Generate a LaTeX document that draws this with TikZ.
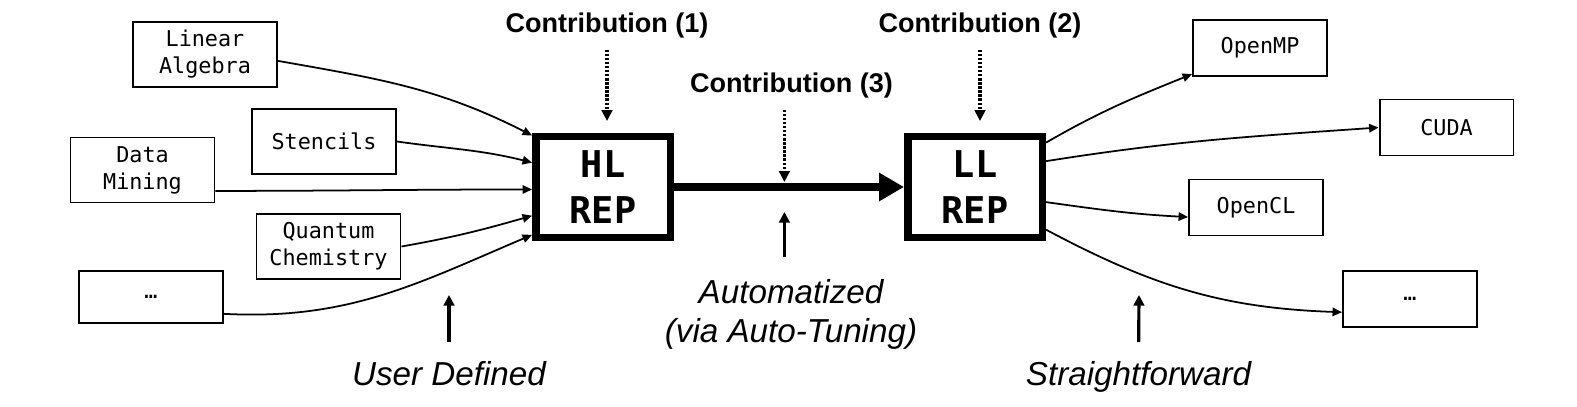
\documentclass[tikz,border=0pt]{standalone}
\usepackage{fontspec}
\setmainfont{Liberation Sans}
\newfontfamily\monofont{DejaVu Sans Mono}
\usepackage{tikz}
\usetikzlibrary{calc}
\usetikzlibrary{arrows.meta}
\tikzset{
  srcbox/.style = {draw, line width=1.1pt, align=center, inner sep=0pt,
    font=\monofont\fontsize{12.4}{15.3}\selectfont, minimum width=2.88cm, minimum height=1.3cm},
  tgtbox/.style = {srcbox, minimum width=2.68cm, minimum height=1.12cm},
  repbox/.style = {draw, line width=4.25pt, align=center, inner sep=0pt,
    font=\monofont\bfseries\fontsize{21}{26}\selectfont, minimum width=2.69cm, minimum height=2.01cm},
  contrib/.style = {inner sep=0pt, font=\bfseries\fontsize{15.4}{18}\selectfont},
  remark/.style = {inner sep=0pt, align=center, font=\itshape\fontsize{18.9}{22.1}\selectfont},
  feed/.style = {line width=1pt},
  dotarrow/.style = {line width=1.9pt, dash pattern=on 1.3pt off 1pt, -{Triangle[length=6.2pt,width=6pt]}},
  uparrow/.style = {line width=1.8pt, -{Triangle[length=6pt,width=6pt]}},
  mainarrow/.style = {line width=4.5pt, -{Triangle[length=14.2pt,width=15.3pt]}},
}

\begin{document}
\begin{tikzpicture}[->, >={Triangle[length=5.4pt,width=4.8pt]}, x=0.02cm, y=0.02cm]
\useasboundingbox (0,0) rectangle (1577,-406);
% domains
\node [srcbox] (la) at (205,-54.5) {Linear\\Algebra};
\node [srcbox] (st) at (324,-141.5) {Stencils};
\node [srcbox] (dm) at (142.5,-170) {Data\\Mining};
\node [srcbox] (qc) at (328.5,-246.5) {Quantum\\Chemistry};
\node [srcbox, minimum height=1.04cm] (dl) at (151,-297) {…};
% representations
\node [repbox] (hl) at (603,-187) {HL\\REP};
\node [repbox] (ll) at (975,-187) {LL\\REP};
% backends
\node [tgtbox] (mp) at (1260,-48) {OpenMP};
\node [tgtbox] (cu) at (1446.5,-127.5) {CUDA};
\node [tgtbox] (cl) at (1256,-207.5) {OpenCL};
\node [tgtbox] (dr) at (1410,-299) {…};
% labels
\node [contrib, anchor=base] (c1) at (607,-32) {Contribution (1)};
\node [contrib, anchor=base] (c2) at (980,-32) {Contribution (2)};
\node [contrib, anchor=base] (c3) at (791.5,-92) {Contribution (3)};
\node [remark, anchor=base] (ud) at (449,-385) {User Defined};
\node [remark] (auto) at (791,-314) {Automatized\\(via Auto-Tuning)};
\node [remark, anchor=base] (sf) at (1138.5,-385) {Straightforward};

\draw [feed] (la.-5) to[out=-10,in=153] (hl.144.8);
\draw [feed] (st.east) to[out=-8,in=166] (hl.161);
\draw [feed] (dm.-16) to[out=0,in=180] (hl.182);
\draw [feed] (qc.east) to[out=10,in=196] (hl.202);
\draw [feed] (dl.-13) to[out=-3,in=203] (hl.214);

\draw [mainarrow] (hl) -- (ll);
\coordinate (mid) at ($(hl.east)!0.48!(ll.west)$);

\draw [feed] (ll.32) to[out=30,in=202] (mp.201);
\draw [feed] (ll.20) to[out=9,in=184] (cu.west);
\draw [feed] (ll.-12) to[out=-8,in=177] (cl.188);
\draw [feed] (ll.-31) to[out=-28,in=178] (dr.191);

\draw [dotarrow, shorten <=0.24cm, shorten >=0.24cm] (c1.south) -- (c1.south |- hl.north);
\draw [dotarrow, shorten <=0.24cm, shorten >=0.24cm] (c2.south) -- (c2.south |- ll.north);
\draw [dotarrow, shorten <=0.24cm, shorten >=0.1cm] (mid |- c3.south) -- (mid);

\coordinate (udtip) at (449,-295);
\coordinate (sftip) at (1139,-295);
\draw [uparrow, shorten <=0.37cm] (ud.north) -- (udtip);
\draw [uparrow, shorten <=0.43cm, shorten >=0.5cm] (mid |- auto.north) -- (mid);
\draw [uparrow, shorten <=0.37cm] (sf.north) -- (sftip);
\end{tikzpicture}
\end{document}
